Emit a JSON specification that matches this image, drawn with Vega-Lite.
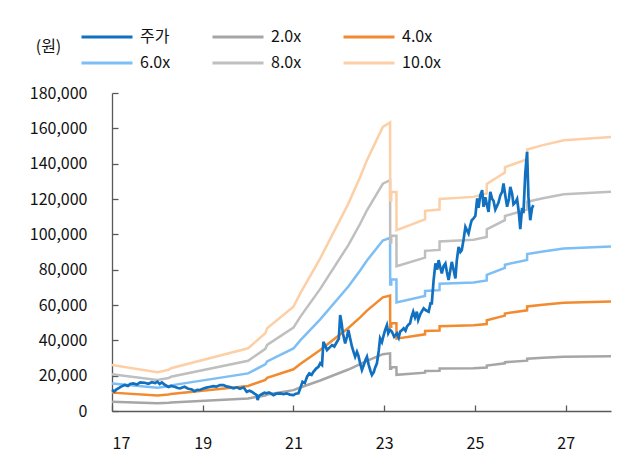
{
  "$schema": "https://vega.github.io/schema/vega-lite/v6.json",
  "width": 499,
  "height": 318,
  "autosize": {"type": "none"},
  "padding": {"left": 112, "top": 93, "right": 16, "bottom": 49},
  "background": "white",
  "config": {
    "view": {"stroke": null},
    "font": "Noto Sans CJK KR",
    "axis": {"labelFont": "Noto Sans CJK KR", "labelFontSize": 16, "labelColor": "#111111", "domainColor": "#595959", "tickColor": "#595959", "grid": false, "domainWidth": 1.3, "tickWidth": 1.3},
    "legend": {"labelFont": "Noto Sans CJK KR", "labelFontSize": 16, "labelColor": "#111111"}
  },
  "datasets": {
    "bands": [
      {"t":17.0,"s":"2.0x","v":5200},{"t":18.0,"s":"2.0x","v":4380},{"t":18.25,"s":"2.0x","v":4660},{"t":18.3,"s":"2.0x","v":4840},{"t":20.0,"s":"2.0x","v":7100},{"t":20.38,"s":"2.0x","v":8800},{"t":20.42,"s":"2.0x","v":9360},{"t":21.0,"s":"2.0x","v":11800},{"t":21.15,"s":"2.0x","v":13320},{"t":21.59,"s":"2.0x","v":17280},{"t":22.21,"s":"2.0x","v":23480},{"t":22.47,"s":"2.0x","v":26500},{"t":22.62,"s":"2.0x","v":28400},{"t":22.97,"s":"2.0x","v":32160},{"t":23.13,"s":"2.0x","v":32660},{"t":23.132,"s":"2.0x","v":23860},{"t":23.155,"s":"2.0x","v":23860},{"t":23.157,"s":"2.0x","v":24800},{"t":23.27,"s":"2.0x","v":24800},{"t":23.272,"s":"2.0x","v":20480},{"t":23.9,"s":"2.0x","v":21700},{"t":23.902,"s":"2.0x","v":22660},{"t":24.22,"s":"2.0x","v":22800},{"t":24.222,"s":"2.0x","v":24000},{"t":24.97,"s":"2.0x","v":24240},{"t":25.26,"s":"2.0x","v":24620},{"t":25.262,"s":"2.0x","v":25700},{"t":25.66,"s":"2.0x","v":27000},{"t":25.662,"s":"2.0x","v":27600},{"t":26.15,"s":"2.0x","v":28500},{"t":26.152,"s":"2.0x","v":29600},{"t":26.5,"s":"2.0x","v":30100},{"t":26.96,"s":"2.0x","v":30660},{"t":28.0,"s":"2.0x","v":31020},
      {"t":17.0,"s":"4.0x","v":10400},{"t":18.0,"s":"4.0x","v":8760},{"t":18.25,"s":"4.0x","v":9320},{"t":18.3,"s":"4.0x","v":9680},{"t":20.0,"s":"4.0x","v":14200},{"t":20.38,"s":"4.0x","v":17600},{"t":20.42,"s":"4.0x","v":18720},{"t":21.0,"s":"4.0x","v":23600},{"t":21.15,"s":"4.0x","v":26640},{"t":21.59,"s":"4.0x","v":34560},{"t":22.21,"s":"4.0x","v":46960},{"t":22.47,"s":"4.0x","v":53000},{"t":22.62,"s":"4.0x","v":56800},{"t":22.97,"s":"4.0x","v":64320},{"t":23.13,"s":"4.0x","v":65320},{"t":23.132,"s":"4.0x","v":47720},{"t":23.155,"s":"4.0x","v":47720},{"t":23.157,"s":"4.0x","v":49600},{"t":23.27,"s":"4.0x","v":49600},{"t":23.272,"s":"4.0x","v":40960},{"t":23.9,"s":"4.0x","v":43400},{"t":23.902,"s":"4.0x","v":45320},{"t":24.22,"s":"4.0x","v":45600},{"t":24.222,"s":"4.0x","v":48000},{"t":24.97,"s":"4.0x","v":48480},{"t":25.26,"s":"4.0x","v":49240},{"t":25.262,"s":"4.0x","v":51400},{"t":25.66,"s":"4.0x","v":54000},{"t":25.662,"s":"4.0x","v":55200},{"t":26.15,"s":"4.0x","v":57000},{"t":26.152,"s":"4.0x","v":59200},{"t":26.5,"s":"4.0x","v":60200},{"t":26.96,"s":"4.0x","v":61320},{"t":28.0,"s":"4.0x","v":62040},
      {"t":17.0,"s":"6.0x","v":15600},{"t":18.0,"s":"6.0x","v":13140},{"t":18.25,"s":"6.0x","v":13980},{"t":18.3,"s":"6.0x","v":14520},{"t":20.0,"s":"6.0x","v":21300},{"t":20.38,"s":"6.0x","v":26400},{"t":20.42,"s":"6.0x","v":28080},{"t":21.0,"s":"6.0x","v":35400},{"t":21.15,"s":"6.0x","v":39960},{"t":21.59,"s":"6.0x","v":51840},{"t":22.21,"s":"6.0x","v":70440},{"t":22.47,"s":"6.0x","v":79500},{"t":22.62,"s":"6.0x","v":85200},{"t":22.97,"s":"6.0x","v":96480},{"t":23.13,"s":"6.0x","v":97980},{"t":23.132,"s":"6.0x","v":71580},{"t":23.155,"s":"6.0x","v":71580},{"t":23.157,"s":"6.0x","v":74400},{"t":23.27,"s":"6.0x","v":74400},{"t":23.272,"s":"6.0x","v":61440},{"t":23.9,"s":"6.0x","v":65100},{"t":23.902,"s":"6.0x","v":67980},{"t":24.22,"s":"6.0x","v":68400},{"t":24.222,"s":"6.0x","v":72000},{"t":24.97,"s":"6.0x","v":72720},{"t":25.26,"s":"6.0x","v":73860},{"t":25.262,"s":"6.0x","v":77100},{"t":25.66,"s":"6.0x","v":81000},{"t":25.662,"s":"6.0x","v":82800},{"t":26.15,"s":"6.0x","v":85500},{"t":26.152,"s":"6.0x","v":88800},{"t":26.5,"s":"6.0x","v":90300},{"t":26.96,"s":"6.0x","v":91980},{"t":28.0,"s":"6.0x","v":93060},
      {"t":17.0,"s":"8.0x","v":20800},{"t":18.0,"s":"8.0x","v":17520},{"t":18.25,"s":"8.0x","v":18640},{"t":18.3,"s":"8.0x","v":19360},{"t":20.0,"s":"8.0x","v":28400},{"t":20.38,"s":"8.0x","v":35200},{"t":20.42,"s":"8.0x","v":37440},{"t":21.0,"s":"8.0x","v":47200},{"t":21.15,"s":"8.0x","v":53280},{"t":21.59,"s":"8.0x","v":69120},{"t":22.21,"s":"8.0x","v":93920},{"t":22.47,"s":"8.0x","v":106000},{"t":22.62,"s":"8.0x","v":113600},{"t":22.97,"s":"8.0x","v":128640},{"t":23.13,"s":"8.0x","v":130640},{"t":23.132,"s":"8.0x","v":95440},{"t":23.155,"s":"8.0x","v":95440},{"t":23.157,"s":"8.0x","v":99200},{"t":23.27,"s":"8.0x","v":99200},{"t":23.272,"s":"8.0x","v":81920},{"t":23.9,"s":"8.0x","v":86800},{"t":23.902,"s":"8.0x","v":90640},{"t":24.22,"s":"8.0x","v":91200},{"t":24.222,"s":"8.0x","v":96000},{"t":24.97,"s":"8.0x","v":96960},{"t":25.26,"s":"8.0x","v":98480},{"t":25.262,"s":"8.0x","v":102800},{"t":25.66,"s":"8.0x","v":108000},{"t":25.662,"s":"8.0x","v":110400},{"t":26.15,"s":"8.0x","v":114000},{"t":26.152,"s":"8.0x","v":118400},{"t":26.5,"s":"8.0x","v":120400},{"t":26.96,"s":"8.0x","v":122640},{"t":28.0,"s":"8.0x","v":124080},
      {"t":17.0,"s":"10.0x","v":26000},{"t":18.0,"s":"10.0x","v":21900},{"t":18.25,"s":"10.0x","v":23300},{"t":18.3,"s":"10.0x","v":24200},{"t":20.0,"s":"10.0x","v":35500},{"t":20.38,"s":"10.0x","v":44000},{"t":20.42,"s":"10.0x","v":46800},{"t":21.0,"s":"10.0x","v":59000},{"t":21.15,"s":"10.0x","v":66600},{"t":21.59,"s":"10.0x","v":86400},{"t":22.21,"s":"10.0x","v":117400},{"t":22.47,"s":"10.0x","v":132500},{"t":22.62,"s":"10.0x","v":142000},{"t":22.97,"s":"10.0x","v":160800},{"t":23.13,"s":"10.0x","v":163300},{"t":23.132,"s":"10.0x","v":119300},{"t":23.155,"s":"10.0x","v":119300},{"t":23.157,"s":"10.0x","v":124000},{"t":23.27,"s":"10.0x","v":124000},{"t":23.272,"s":"10.0x","v":102400},{"t":23.9,"s":"10.0x","v":108500},{"t":23.902,"s":"10.0x","v":113300},{"t":24.22,"s":"10.0x","v":114000},{"t":24.222,"s":"10.0x","v":120000},{"t":24.97,"s":"10.0x","v":121200},{"t":25.26,"s":"10.0x","v":123100},{"t":25.262,"s":"10.0x","v":128500},{"t":25.66,"s":"10.0x","v":135000},{"t":25.662,"s":"10.0x","v":138000},{"t":26.15,"s":"10.0x","v":142500},{"t":26.152,"s":"10.0x","v":148000},{"t":26.5,"s":"10.0x","v":150500},{"t":26.96,"s":"10.0x","v":153300},{"t":28.0,"s":"10.0x","v":155100}
    ],
    "price": [
      {"t":17.0,"v":11900},{"t":17.05,"v":11000},{"t":17.1,"v":12200},{"t":17.15,"v":13000},{"t":17.2,"v":13800},{"t":17.28,"v":14700},{"t":17.35,"v":14200},{"t":17.4,"v":15300},{"t":17.47,"v":15600},{"t":17.55,"v":15000},{"t":17.62,"v":16200},{"t":17.72,"v":16000},{"t":17.8,"v":15400},{"t":17.88,"v":16300},{"t":17.95,"v":15800},{"t":18.0,"v":16600},{"t":18.05,"v":15300},{"t":18.1,"v":16200},{"t":18.17,"v":14700},{"t":18.25,"v":13600},{"t":18.3,"v":14200},{"t":18.38,"v":13700},{"t":18.45,"v":13000},{"t":18.5,"v":12800},{"t":18.55,"v":13300},{"t":18.6,"v":13700},{"t":18.68,"v":12600},{"t":18.75,"v":12300},{"t":18.82,"v":11200},{"t":18.88,"v":12000},{"t":18.94,"v":11900},{"t":19.0,"v":12600},{"t":19.08,"v":13200},{"t":19.15,"v":13600},{"t":19.23,"v":14100},{"t":19.3,"v":13800},{"t":19.38,"v":14700},{"t":19.46,"v":14700},{"t":19.52,"v":13900},{"t":19.6,"v":13500},{"t":19.68,"v":12800},{"t":19.75,"v":13400},{"t":19.82,"v":12600},{"t":19.9,"v":13400},{"t":19.97,"v":10900},{"t":20.03,"v":11500},{"t":20.08,"v":10900},{"t":20.14,"v":9800},{"t":20.19,"v":9000},{"t":20.21,"v":6200},{"t":20.24,"v":8500},{"t":20.3,"v":9500},{"t":20.36,"v":10300},{"t":20.41,"v":10000},{"t":20.46,"v":10500},{"t":20.52,"v":9600},{"t":20.56,"v":9000},{"t":20.62,"v":9800},{"t":20.71,"v":10000},{"t":20.78,"v":9500},{"t":20.85,"v":10000},{"t":20.92,"v":9300},{"t":21.0,"v":9000},{"t":21.05,"v":9800},{"t":21.11,"v":10000},{"t":21.15,"v":12800},{"t":21.2,"v":16600},{"t":21.25,"v":15800},{"t":21.3,"v":19400},{"t":21.35,"v":21300},{"t":21.4,"v":20500},{"t":21.44,"v":22200},{"t":21.5,"v":24000},{"t":21.55,"v":25000},{"t":21.59,"v":27000},{"t":21.63,"v":26000},{"t":21.66,"v":39200},{"t":21.7,"v":37000},{"t":21.74,"v":34500},{"t":21.8,"v":36000},{"t":21.85,"v":37300},{"t":21.9,"v":36500},{"t":21.96,"v":39200},{"t":22.0,"v":41000},{"t":22.03,"v":54300},{"t":22.06,"v":50000},{"t":22.09,"v":44000},{"t":22.14,"v":38300},{"t":22.18,"v":42000},{"t":22.21,"v":45800},{"t":22.25,"v":41000},{"t":22.29,"v":36400},{"t":22.33,"v":33000},{"t":22.36,"v":30700},{"t":22.4,"v":33500},{"t":22.43,"v":31500},{"t":22.47,"v":27000},{"t":22.51,"v":23200},{"t":22.55,"v":26000},{"t":22.59,"v":29000},{"t":22.62,"v":30700},{"t":22.66,"v":26000},{"t":22.7,"v":22500},{"t":22.73,"v":20400},{"t":22.77,"v":22000},{"t":22.8,"v":24500},{"t":22.84,"v":27000},{"t":22.88,"v":34000},{"t":22.91,"v":41100},{"t":22.95,"v":39000},{"t":22.99,"v":43000},{"t":23.02,"v":45800},{"t":23.06,"v":48600},{"t":23.09,"v":44000},{"t":23.13,"v":46000},{"t":23.17,"v":44900},{"t":23.22,"v":42000},{"t":23.28,"v":43900},{"t":23.32,"v":41500},{"t":23.35,"v":44900},{"t":23.4,"v":46000},{"t":23.43,"v":46800},{"t":23.47,"v":45500},{"t":23.5,"v":47700},{"t":23.54,"v":49000},{"t":23.57,"v":49600},{"t":23.6,"v":53000},{"t":23.64,"v":56200},{"t":23.68,"v":53000},{"t":23.72,"v":56200},{"t":23.75,"v":51500},{"t":23.8,"v":55000},{"t":23.87,"v":58100},{"t":23.92,"v":57000},{"t":23.98,"v":56200},{"t":24.02,"v":60900},{"t":24.05,"v":60900},{"t":24.09,"v":74100},{"t":24.13,"v":83500},{"t":24.17,"v":80000},{"t":24.2,"v":85400},{"t":24.24,"v":81000},{"t":24.27,"v":77900},{"t":24.31,"v":82000},{"t":24.35,"v":83500},{"t":24.38,"v":79000},{"t":24.42,"v":74100},{"t":24.46,"v":80000},{"t":24.49,"v":84400},{"t":24.53,"v":80000},{"t":24.57,"v":75000},{"t":24.6,"v":85000},{"t":24.64,"v":92900},{"t":24.68,"v":90000},{"t":24.71,"v":91000},{"t":24.75,"v":97000},{"t":24.79,"v":104200},{"t":24.83,"v":102000},{"t":24.86,"v":100500},{"t":24.9,"v":105200},{"t":24.93,"v":108000},{"t":24.97,"v":109000},{"t":25.01,"v":110500},{"t":25.05,"v":120300},{"t":25.08,"v":115000},{"t":25.12,"v":122200},{"t":25.16,"v":125000},{"t":25.19,"v":115600},{"t":25.23,"v":121000},{"t":25.27,"v":116000},{"t":25.3,"v":112700},{"t":25.34,"v":124000},{"t":25.38,"v":120000},{"t":25.41,"v":119000},{"t":25.45,"v":114000},{"t":25.48,"v":115600},{"t":25.52,"v":118000},{"t":25.56,"v":122000},{"t":25.6,"v":124000},{"t":25.63,"v":128800},{"t":25.67,"v":122000},{"t":25.71,"v":115600},{"t":25.75,"v":120000},{"t":25.78,"v":126900},{"t":25.82,"v":123000},{"t":25.85,"v":117000},{"t":25.89,"v":118000},{"t":25.93,"v":120000},{"t":25.97,"v":112000},{"t":26.0,"v":103000},{"t":26.04,"v":115000},{"t":26.07,"v":112000},{"t":26.11,"v":134400},{"t":26.15,"v":146700},{"t":26.18,"v":121200},{"t":26.22,"v":108000},{"t":26.26,"v":115000},{"t":26.29,"v":116500}
    ]
  },
  "encoding": {
    "x": {"field": "t", "type": "quantitative", "scale": {"domain": [17, 28], "nice": false, "zero": false},
      "axis": {"title": null, "values": [17, 19, 21, 23, 25, 27], "format": "d", "tickSize": -6, "labelPadding": 30}},
    "y": {"field": "v", "type": "quantitative", "scale": {"domain": [0, 180000], "nice": false},
      "axis": {"title": "(원)", "titleAngle": 0, "titleX": -64, "titleY": -47, "titleAlign": "center", "titleBaseline": "middle", "titleFontSize": 16, "titleFontWeight": "normal", "titleColor": "#111111", "values": [0,20000,40000,60000,80000,100000,120000,140000,160000,180000], "format": ",d", "tickSize": -6, "labelPadding": 31}}
  },
  "layer": [
    {
      "data": {"name": "bands"},
      "mark": {"type": "line", "strokeWidth": 2.5},
      "encoding": {
        "color": {"field": "s", "type": "nominal",
          "scale": {"domain": ["주가", "2.0x", "4.0x", "6.0x", "8.0x", "10.0x"], "range": ["#1170C0", "#A6A6A6", "#F28A30", "#7DBEF5", "#BFBFBF", "#FCCFA6"]},
          "legend": {"title": null, "orient": "none", "legendX": -32, "legendY": -64, "direction": "horizontal", "columns": 3, "symbolType": "stroke", "symbolSize": 2600, "symbolStrokeWidth": 3, "columnPadding": 31, "rowPadding": 10, "clipHeight": 16, "labelOffset": 6, "gridAlign": "all", "padding": 0}}
      }
    },
    {
      "data": {"name": "price"},
      "mark": {"type": "line", "strokeWidth": 2.7},
      "encoding": {"color": {"datum": "주가"}}
    }
  ]
}
